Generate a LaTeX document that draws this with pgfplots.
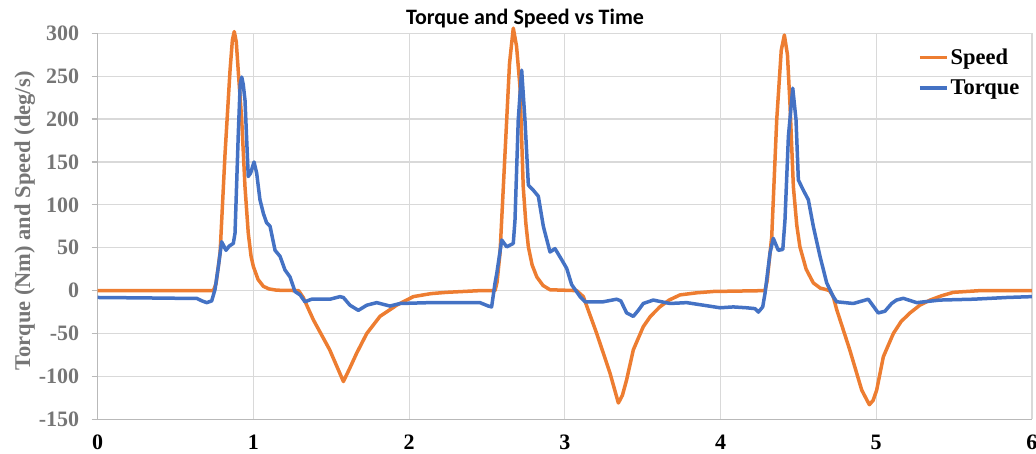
\documentclass[border=0pt]{standalone}
\usepackage{fontspec}
\setmainfont{Liberation Serif}
\newfontfamily\titlefont{Carlito}
\usepackage{pgfplots}
\pgfplotsset{compat=1.18}
\definecolor{spd}{HTML}{ED7D31}
\definecolor{trq}{HTML}{4472C4}
\definecolor{gridc}{HTML}{D9D9D9}
\definecolor{labc}{HTML}{767676}
\begin{document}
\begin{tikzpicture}[x=1bp,y=1bp]
\useasboundingbox (0,0) rectangle (1036,454);
\begin{axis}[
  at={(97.7bp,34.7bp)}, anchor=south west,
  scale only axis, width=934.2bp, height=386bp,
  xmin=0, xmax=6, ymin=-150, ymax=300, clip=false,
  xtick={0,1,2,3,4,5,6}, ytick={-150,-100,-50,0,50,100,150,200,250,300},
  xticklabels={0,1,2,3,4,5,6},
  yticklabels={-150,-100,-50,0,50,100,150,200,250,300},
  grid=major, major grid style={draw=gridc, line width=1.2bp},
  axis x line=bottom, axis y line=left,
  axis line style={draw=gray!55, line width=1.2bp, -},
  tick align=outside, major tick length=6bp,
  x tick style={draw=none}, y tick style={draw=gray!55, line width=1.2bp},
  yticklabel style={font=\fontsize{22bp}{26bp}\selectfont\bfseries, text=labc, xshift=-9bp},
  xticklabel style={font=\fontsize{22bp}{26bp}\selectfont\bfseries, text=black, yshift=-6bp},
  ylabel={Torque (Nm) and Speed (deg/s)},
  ylabel style={font=\fontsize{22.5bp}{26bp}\selectfont\bfseries, text=labc,
    at={(axis description cs:-0.078,0.514)}, anchor=center},
  title={\titlefont\bfseries Torque and Speed vs Time},
  title style={font=\fontsize{22bp}{26bp}\selectfont, at={(axis description cs:0.4574,1.0215)}, anchor=base, yshift=-5bp},
  legend style={at={(axis description cs:0.878,0.965)}, anchor=north west, draw=none, fill=none,
    font=\fontsize{22.5bp}{27bp}\selectfont\bfseries, inner sep=0pt, row sep=10bp},
  legend cell align=left,
  legend image code/.code={\draw[#1, line width=3.5bp] (0bp,0bp) -- (27bp,0bp);},
  line join=round,
]
\addplot[spd, line width=3.5bp] coordinates {
(0,0) (0.743,0) (0.76,8) (0.786,44) (0.818,160) (0.85,257) (0.865,292) (0.877,302)
(0.89,290) (0.905,250) (0.925,199) (0.946,121) (0.967,67) (0.985,40) (1.0,28) (1.03,13)
(1.064,5) (1.1,2) (1.15,0.5) (1.29,0) (1.32,-8) (1.385,-34) (1.49,-69) (1.578,-106)
(1.62,-90) (1.663,-73) (1.728,-50) (1.813,-30) (1.92,-17) (2.027,-7) (2.14,-3.5) (2.24,-2) (2.455,0)
(2.552,0) (2.565,10) (2.584,44) (2.616,160) (2.645,265) (2.669,306) (2.69,285) (2.712,238)
(2.733,121) (2.75,78) (2.766,51) (2.79,30) (2.82,16) (2.86,6) (2.905,1) (3.076,0) (3.119,-7)
(3.205,-50) (3.29,-96) (3.344,-131) (3.37,-122) (3.397,-104) (3.44,-69) (3.504,-42) (3.55,-30) (3.61,-19)
(3.67,-11) (3.74,-5) (3.85,-2.5) (3.954,-1) (4.286,0) (4.3,12) (4.329,63) (4.361,199) (4.39,280) (4.41,298)
(4.43,275) (4.446,218) (4.468,121) (4.49,76) (4.51,51) (4.55,25) (4.596,9) (4.64,3) (4.682,1) (4.70,0)
(4.724,-7) (4.746,-22) (4.83,-69) (4.907,-116) (4.956,-133) (4.98,-128) (5.003,-116) (5.046,-77) (5.11,-50)
(5.16,-36) (5.217,-26) (5.28,-17) (5.346,-11) (5.42,-6) (5.495,-2) (5.667,0) (6,0)
};
\addlegendentry{Speed}
\addplot[trq, line width=3.5bp] coordinates {
(0,-8) (0.3,-8.5) (0.55,-9) (0.636,-9) (0.67,-12) (0.70,-14) (0.732,-12) (0.753,1) (0.775,28)
(0.796,57) (0.81,52) (0.824,47) (0.845,52) (0.871,55) (0.882,67) (0.903,183) (0.915,240) (0.925,249)
(0.935,240) (0.946,222) (0.967,133) (0.982,137) (1.004,150) (1.021,137) (1.042,106) (1.064,90)
(1.085,79) (1.107,75) (1.139,47) (1.171,40) (1.203,24) (1.235,16) (1.267,-1) (1.30,-5) (1.331,-13)
(1.374,-10) (1.492,-10) (1.556,-7) (1.578,-8) (1.62,-17) (1.674,-23) (1.728,-17) (1.792,-14)
(1.877,-18) (1.942,-15) (2.134,-14) (2.348,-14) (2.455,-14) (2.509,-18) (2.53,-19) (2.552,9)
(2.563,20) (2.595,59) (2.627,51) (2.669,55) (2.68,82) (2.701,199) (2.723,257) (2.744,199)
(2.766,123) (2.798,117) (2.83,110) (2.862,75) (2.905,45) (2.937,49) (2.98,36) (3.012,26) (3.044,7)
(3.098,-7) (3.13,-13) (3.247,-13) (3.333,-10) (3.36,-12) (3.397,-26) (3.44,-30) (3.472,-23)
(3.504,-15) (3.568,-11) (3.675,-15) (3.783,-14) (3.89,-17) (3.997,-20) (4.082,-19) (4.168,-20)
(4.222,-21) (4.243,-25) (4.271,-19) (4.286,-3) (4.318,44) (4.339,61) (4.371,47) (4.4,48) (4.414,82)
(4.436,180) (4.464,236) (4.485,199) (4.5,129) (4.532,117) (4.564,106) (4.596,75) (4.639,40)
(4.682,9) (4.724,-7) (4.746,-13) (4.853,-15) (4.949,-10) (4.981,-18) (5.013,-26) (5.056,-24)
(5.099,-15) (5.13,-11) (5.174,-9) (5.26,-14) (5.41,-11) (5.624,-10) (5.838,-8) (6,-7)
};
\addlegendentry{Torque}
\end{axis}
\end{tikzpicture}
\end{document}
